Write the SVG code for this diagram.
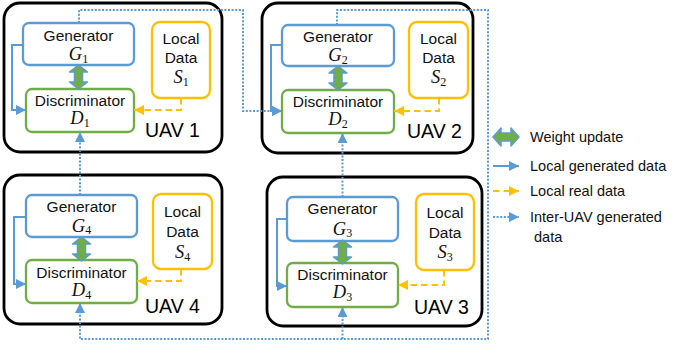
<svg xmlns="http://www.w3.org/2000/svg" xmlns:xlink="http://www.w3.org/1999/xlink" width="673" height="346" viewBox="0 0 673 346">
  <style>
    .uav { fill: #ffffff; stroke: #000000; stroke-width: 2.8; }
    .gen { fill: #ffffff; stroke: #5B9BD5; stroke-width: 2.3; }
    .dis { fill: #ffffff; stroke: #70AD47; stroke-width: 2.3; }
    .dat { fill: #ffffff; stroke: #FFC000; stroke-width: 2.3; }
    .lbl { font-family: "Liberation Sans", Arial, sans-serif; font-size: 15.5px; fill: #111111; text-anchor: middle; }
    .math { font-family: "Liberation Serif", "Times New Roman", serif; font-style: italic; font-size: 18.5px; fill: #111111; text-anchor: middle; }
    .sub { font-style: normal; font-size: 12px; }
    .name { font-family: "Liberation Sans", Arial, sans-serif; font-size: 19.5px; fill: #000000; }
    .leg { font-family: "Liberation Sans", Arial, sans-serif; font-size: 14.5px; fill: #111111; }
    .local { fill: none; stroke: #5B9BD5; stroke-width: 2; marker-end: url(#hb); }
    .real { fill: none; stroke: #FFC000; stroke-width: 2; stroke-dasharray: 6.5 4; marker-end: url(#ho); }
    .inter { fill: none; stroke: #5B9BD5; stroke-width: 2; stroke-dasharray: 2 1.6; }
    .interA { marker-end: url(#hb); }
    .wu { fill: #70AD47; stroke: #5B9BD5; stroke-width: 1.5; stroke-linejoin: round; }
  </style>
  <defs>
    <marker id="hb" markerUnits="userSpaceOnUse" markerWidth="10" markerHeight="10" refX="10" refY="5" orient="auto">
      <path d="M0,0 L10,5 L0,10 Z" fill="#5B9BD5"/>
    </marker>
    <marker id="ho" markerUnits="userSpaceOnUse" markerWidth="10" markerHeight="10" refX="10" refY="5" orient="auto">
      <path d="M0,0 L10,5 L0,10 Z" fill="#FFC000"/>
    </marker>
    <!-- vertical double-headed weight-update arrow, 24 tall, centred on x=0 -->
    <path id="wu" class="wu" d="M0,0 L9,7 L4,7 L4,17 L9,17 L0,24 L-9,17 L-4,17 L-4,7 L-9,7 Z"/>
  </defs>

  <!-- UAV 1 -->
  <g id="uav1">
    <rect class="uav" x="4" y="3" width="218" height="149" rx="16"/>
    <g id="gen1">
      <rect class="gen" x="23" y="23" width="111" height="42" rx="6"/>
      <text class="lbl" x="78.5" y="40.5">Generator</text>
      <text class="math" x="78.5" y="60">G<tspan class="sub" dy="2.5">1</tspan></text>
    </g>
    <g id="dis1">
      <rect class="dis" x="26" y="89" width="108" height="43" rx="6"/>
      <text class="lbl" x="80" y="106">Discriminator</text>
      <text class="math" x="80" y="124">D<tspan class="sub" dy="2.5">1</tspan></text>
    </g>
    <g id="data1">
      <rect class="dat" x="152" y="22" width="58" height="76" rx="8"/>
      <text class="lbl" x="181" y="44">Local</text>
      <text class="lbl" x="181" y="63">Data</text>
      <text class="math" x="181" y="83">S<tspan class="sub" dy="2.5">1</tspan></text>
    </g>
    <text class="name" x="145" y="137">UAV 1</text>
  </g>

  <!-- UAV 2 -->
  <g id="uav2">
    <rect class="uav" x="262" y="3" width="211" height="150" rx="16"/>
    <g id="gen2">
      <rect class="gen" x="282" y="25" width="112" height="41" rx="6"/>
      <text class="lbl" x="338" y="41.5">Generator</text>
      <text class="math" x="338" y="61">G<tspan class="sub" dy="2.5">2</tspan></text>
    </g>
    <g id="dis2">
      <rect class="dis" x="282" y="90" width="112" height="43" rx="6"/>
      <text class="lbl" x="338" y="107">Discriminator</text>
      <text class="math" x="338" y="125">D<tspan class="sub" dy="2.5">2</tspan></text>
    </g>
    <g id="data2">
      <rect class="dat" x="409" y="22" width="59" height="76" rx="8"/>
      <text class="lbl" x="438.5" y="44">Local</text>
      <text class="lbl" x="438.5" y="63">Data</text>
      <text class="math" x="438.5" y="83">S<tspan class="sub" dy="2.5">2</tspan></text>
    </g>
    <text class="name" x="407" y="138">UAV 2</text>
  </g>

  <!-- UAV 4 -->
  <g id="uav4">
    <rect class="uav" x="4" y="175" width="218" height="149" rx="16"/>
    <g id="gen4">
      <rect class="gen" x="26" y="195" width="111" height="42" rx="6"/>
      <text class="lbl" x="81.5" y="212">Generator</text>
      <text class="math" x="81.5" y="231.5">G<tspan class="sub" dy="2.5">4</tspan></text>
    </g>
    <g id="dis4">
      <rect class="dis" x="26" y="260" width="111" height="43" rx="6"/>
      <text class="lbl" x="81.5" y="278">Discriminator</text>
      <text class="math" x="81.5" y="296">D<tspan class="sub" dy="2.5">4</tspan></text>
    </g>
    <g id="data4">
      <rect class="dat" x="153" y="194" width="59" height="75" rx="8"/>
      <text class="lbl" x="182.5" y="217">Local</text>
      <text class="lbl" x="182.5" y="237">Data</text>
      <text class="math" x="182.5" y="258">S<tspan class="sub" dy="2.5">4</tspan></text>
    </g>
    <text class="name" x="145" y="313">UAV 4</text>
  </g>

  <!-- UAV 3 -->
  <g id="uav3">
    <rect class="uav" x="267" y="177" width="215" height="149" rx="16"/>
    <g id="gen3">
      <rect class="gen" x="287" y="197" width="111" height="44" rx="6"/>
      <text class="lbl" x="342.5" y="214">Generator</text>
      <text class="math" x="342.5" y="234.5">G<tspan class="sub" dy="2.5">3</tspan></text>
    </g>
    <g id="dis3">
      <rect class="dis" x="287" y="263" width="111" height="44" rx="6"/>
      <text class="lbl" x="342.5" y="280">Discriminator</text>
      <text class="math" x="342.5" y="298">D<tspan class="sub" dy="2.5">3</tspan></text>
    </g>
    <g id="data3">
      <rect class="dat" x="416" y="194" width="58" height="76" rx="8"/>
      <text class="lbl" x="445" y="218">Local</text>
      <text class="lbl" x="445" y="238">Data</text>
      <text class="math" x="445" y="258">S<tspan class="sub" dy="2.5">3</tspan></text>
    </g>
    <text class="name" x="414" y="314">UAV 3</text>
  </g>

  <!-- connectors -->
  <g id="connectors">
    <!-- weight updates between generator and discriminator -->
    <use xlink:href="#wu" href="#wu" x="78.5" y="65"/>
    <use xlink:href="#wu" href="#wu" x="338" y="66"/>
    <use xlink:href="#wu" href="#wu" x="81.5" y="237"/>
    <use xlink:href="#wu" href="#wu" x="342.5" y="240"/>

    <!-- local generated data -->
    <path class="local" d="M23,45 H12 V110 H26"/>
    <path class="local" d="M282,45 H271 V111 H282"/>
    <path class="local" d="M26,217 H14 V284 H26"/>
    <path class="local" d="M287,219 H277 V286 H287"/>

    <!-- local real data -->
    <path class="real" d="M181,98 V110 H134"/>
    <path class="real" d="M439,98 V111 H394"/>
    <path class="real" d="M181,269 V281 H137"/>
    <path class="real" d="M444,270 V285 H398"/>

    <!-- inter-UAV generated data -->
    <path class="inter interA" d="M79,23 V10 H243 V111 H282"/>
    <path class="inter" d="M337,25 V10 H488 V339 H80 V304"/>
    <path class="inter interA" d="M80,311 V303"/>
    <path class="inter interA" d="M342.5,339 V307"/>
    <path class="inter interA" d="M342.5,197 V133"/>
    <path class="inter interA" d="M80,195 V132"/>
  </g>

  <!-- legend -->
  <g id="legend">
    <path class="wu" d="M493,137 L501,128 L501,133 L511,133 L511,128 L519,137 L511,146 L511,141 L501,141 L501,146 Z"/>
    <text class="leg" x="530" y="142">Weight update</text>
    <path class="local" d="M493,166 H519"/>
    <text class="leg" x="530" y="171">Local generated data</text>
    <path class="real" d="M493,191 H519"/>
    <text class="leg" x="530" y="196">Local real data</text>
    <path class="inter interA" d="M493,217 H519"/>
    <text class="leg" x="530" y="222">Inter-UAV generated</text>
    <text class="leg" x="534" y="242">data</text>
  </g>
</svg>
